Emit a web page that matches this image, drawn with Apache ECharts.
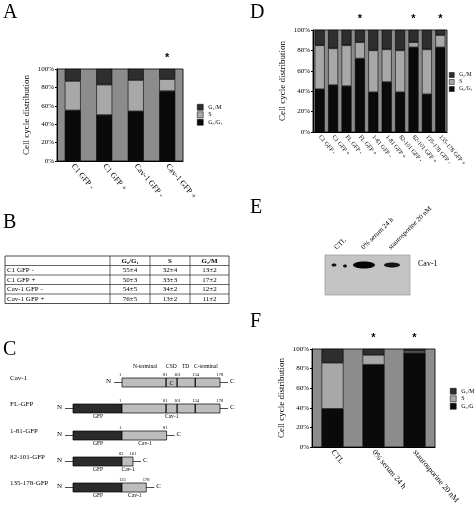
<!DOCTYPE html>
<html><head><meta charset="utf-8">
<script src="https://cdn.jsdelivr.net/npm/echarts@6/dist/echarts.min.js"></script>
<style>html,body{margin:0;padding:0;background:#fff}#c{width:474px;height:515px}</style>
</head><body><div id="c"></div>
<script>
const catsA = ['C1 GFP -','C1 GFP +','Cav-1 GFP -','Cav-1 GFP +'];
const g1A = [55,50,54,76];
const sA  = [32,33,34,13];
const g2A = [13,17,12,11];
const starA = ['','','','*'];

const catsD = ['C1 GFP -','C1 GFP +','FL GFP -','FL GFP +','1-81 GFP -','1-81 GFP +','82-101 GFP -','82-101 GFP +','135-178 GFP -','135-178 GFP +'];
const g1D = [42,46,45,72,39,49,39,83,37,83];
const sD  = [43,36,40,16,41,32,41,5,44,12];
const g2D = [15,18,15,12,20,19,20,12,19,5];
const starD = ['','','','*','','','','*','','*'];

const catsF = ['CTL','0% serum 24 h','staurosporine 20 nM'];
const g1F = [39,84,96];
const sF  = [47,10,2];
const g2F = [14,6,2];
const starF = ['','*','*'];

const tableHead = ['', 'G₀/G₁', 'S', 'G₂/M'];
const tableRows = [
 ['C1 GFP -','55±4','32±4','13±2'],
 ['C1 GFP +','50±3','33±3','17±2'],
 ['Cav-1 GFP -','54±5','34±2','12±2'],
 ['Cav-1 GFP +','76±5','13±2','11±2']];

const constructs = [
 {name:'Cav-1', gfp:false, from:1, to:178},
 {name:'FL-GFP', gfp:true, from:1, to:178},
 {name:'1-81-GFP', gfp:true, from:1, to:81},
 {name:'82-101-GFP', gfp:true, from:82, to:101},
 {name:'135-178-GFP', gfp:true, from:135, to:178}];
const blotLanes = ['CTL','0% serum 24 h','staurosporine 20 nM'];

const F = 'Liberation Serif';
const C_G1='#0a0a0a', C_S='#a8a8a8', C_G2='#2e2e2e';
const names = ['G₂/M','S','G₀/G₁'];

function grid(left,top,width,height){return {left,top,width,height,show:true,backgroundColor:'#8c8c8c',borderColor:'#222',borderWidth:1};}
function xax(i,cats,fs){return {type:'category',gridIndex:i,data:cats,axisTick:{show:false},axisLine:{lineStyle:{color:'#000'}},
  axisLabel:{rotate:-50,fontFamily:F,fontSize:fs,color:'#000',margin:4,interval:0}};}
function yax(i,gap,fs){return {type:'value',gridIndex:i,min:0,max:100,interval:20,axisLine:{show:true,lineStyle:{color:'#000'}},
  axisTick:{show:true,length:2},splitLine:{show:false},axisLabel:{formatter:'{value}%',fontFamily:F,fontSize:7,color:'#000',margin:3},
  name:'Cell cycle distribution',nameLocation:'middle',nameGap:gap,nameTextStyle:{fontFamily:F,fontSize:fs,color:'#000'}};}
function ser(i,g1,s,g2,star,bw){
  const base={type:'bar',stack:'s'+i,xAxisIndex:i,yAxisIndex:i,barWidth:bw,itemStyle:{borderColor:'#000',borderWidth:0.6}};
  return [
   Object.assign({},base,{name:names[2],data:g1,itemStyle:Object.assign({},base.itemStyle,{color:C_G1})}),
   Object.assign({},base,{name:names[1],data:s,itemStyle:Object.assign({},base.itemStyle,{color:C_S})}),
   Object.assign({},base,{name:names[0],data:g2,itemStyle:Object.assign({},base.itemStyle,{color:C_G2}),
     label:{show:true,position:'top',distance:6,formatter:p=>star[p.dataIndex],fontSize:11,fontWeight:'bold',color:'#000'}})];
}
function leg(left,top){return {orient:'vertical',left,top,data:names,itemWidth:6,itemHeight:6,itemGap:1,icon:'rect',padding:0,
  itemStyle:{borderWidth:0.5,borderColor:'#000'},textStyle:{fontFamily:F,fontSize:6,color:'#000'},selectedMode:false};}

const gr=[];
function txt(x,y,t,fs,extra){gr.push(Object.assign({type:'text',x,y,style:{text:t,fontFamily:F,fontSize:fs,fill:'#000'}},extra||{}));}
function rect(x,y,w,h,fill,stroke){gr.push({type:'rect',shape:{x,y,width:w,height:h},style:{fill,stroke:stroke||'#000',lineWidth:0.7}});}
function line(x1,y1,x2,y2,w){gr.push({type:'line',shape:{x1,y1,x2,y2},style:{stroke:'#000',lineWidth:w||0.7}});}

txt(3,3,'A',20); txt(3,213,'B',20); txt(3,340,'C',20);
txt(250,3,'D',20); txt(250,198,'E',20); txt(250,312,'F',20);

// table B
const tx=[5,110,150,190,229], ty0=256, rh=9.5;
rect(5,ty0,224,rh*5,'none');
for(let r=1;r<5;r++) line(5,ty0+r*rh,229,ty0+r*rh,0.6);
for(let c=1;c<4;c++) line(tx[c],ty0,tx[c],ty0+5*rh,0.6);
tableHead.forEach((h,c)=>{ if(c) txt((tx[c]+tx[c+1])/2,ty0+1.5,h,7,{style:{text:h,fontFamily:F,fontSize:7,fontWeight:'bold',fill:'#000',align:'center'}});});
tableRows.forEach((row,r)=>row.forEach((v,c)=>{
  const y=ty0+(r+1)*rh+1.5;
  if(c===0) txt(7,y,v,7); else gr.push({type:'text',x:(tx[c]+tx[c+1])/2,y,style:{text:v,fontFamily:F,fontSize:7,fill:'#000',align:'center'}});
}));

// diagram C
const sx=122, sc=98/178, rowY=[378,404,431,457,483];
txt(133,364,'N-terminal',5.5); txt(166,364,'CSD',5.5); txt(182,364,'TD',5.5); txt(194,364,'C-terminal',5.5);
constructs.forEach((c,i)=>{
  const y=rowY[i], h=9, left=c.gfp?73:sx;
  txt(10,y-3,c.name,7);
  const x0=sx, x1=sx+(c.to-c.from+1)*sc;
  line(left-8,y+h/2,left,y+h/2); txt(left-16,y,'N',7);
  if(c.gfp){rect(73,y,sx-73,h,'#2b2b2b'); txt(93,y+h+1,'GFP',5.5);}
  rect(x0,y,x1-x0,h,'#bdbdbd');
  line(x1,y+h/2,x1+8,y+h/2); txt(x1+10,y,'C',7);
  if(c.gfp) txt((x0+x1)/2-6,y+h+1,'Cav-1',5.5);
  const marks=[c.from,c.to].concat(c.from===1&&c.to===178?[81,101,134]:[]);
  marks.forEach(m=>txt(x0+(m-c.from)*sc-3,y-6,String(m),4.5));
  if(c.from===1&&c.to===178){[81,101,134].forEach(m=>line(x0+(m-1)*sc,y,x0+(m-1)*sc,y+h,1.2));
    if(!c.gfp) txt(x0+90*sc-2,y+2,'C',6);}
});

// blot E
rect(325,255,85,40,'#c4c4c4','#999');
gr.push({type:'ellipse',shape:{cx:334,cy:265,rx:2.5,ry:1.5},style:{fill:'#111'}});
gr.push({type:'ellipse',shape:{cx:345,cy:266,rx:2,ry:1.5},style:{fill:'#111'}});
gr.push({type:'ellipse',shape:{cx:364,cy:265,rx:11,ry:3.5},style:{fill:'#050505'}});
gr.push({type:'ellipse',shape:{cx:392,cy:265,rx:8,ry:2.5},style:{fill:'#151515'}});
txt(418,260,'Cav-1',8);
const lx=[338,365,392];
blotLanes.forEach((l,i)=>gr.push({type:'text',x:lx[i],y:251,rotation:Math.PI/4,style:{text:l,fontFamily:F,fontSize:7,fill:'#000',align:'left',verticalAlign:'bottom'}}));

const opt={animation:false,
 grid:[grid(57,69,126,92),grid(313,30,134,102),grid(312,349,123,98)],
 xAxis:[xax(0,catsA,8),xax(1,catsD,6),xax(2,catsF,8)],
 yAxis:[yax(0,26,9),yax(1,26,9),yax(2,26,9)],
 legend:[leg(197,104),Object.assign(leg(449,72),{textStyle:{fontFamily:F,fontSize:5.5,color:'#000'},itemWidth:5,itemHeight:5}),leg(450,388)],
 series:[].concat(ser(0,g1A,sA,g2A,starA,16),ser(1,g1D,sD,g2D,starD,10),ser(2,g1F,sF,g2F,starF,22)),
 graphic:gr};
echarts.init(document.getElementById('c')).setOption(opt);
</script></body></html>
